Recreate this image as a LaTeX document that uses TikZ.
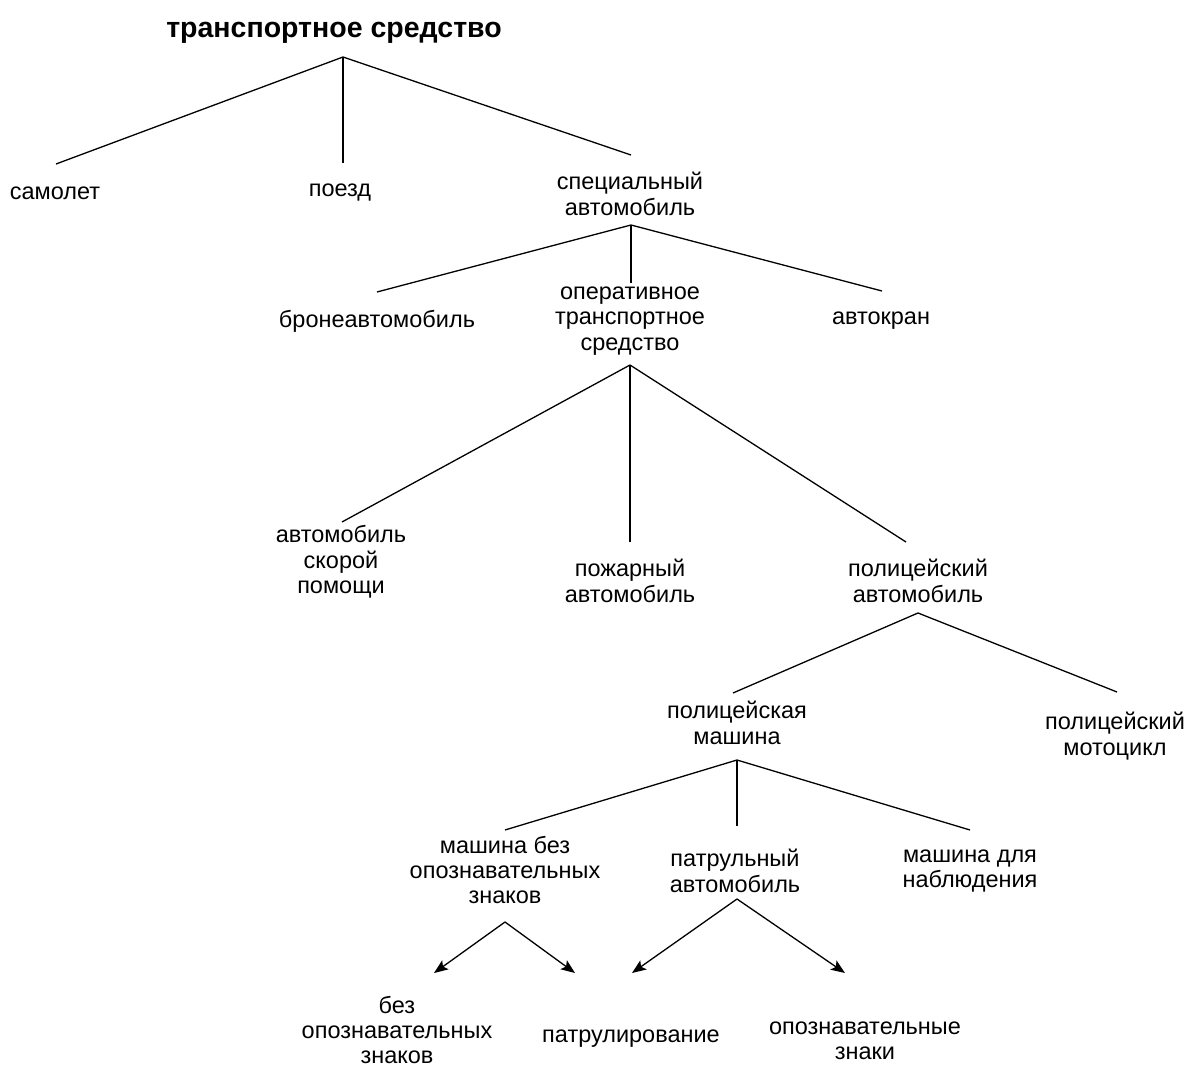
\documentclass[tikz,border=0pt]{standalone}
\usepackage{fontspec}
\setmainfont{Liberation Sans}
\usetikzlibrary{calc,arrows.meta}
\begin{document}
\begin{tikzpicture}[x=1pt,y=-1pt,
  lbl/.style={align=center,inner sep=0pt,font=\fontsize{23.5}{25.3}\selectfont},
  ttl/.style={align=center,inner sep=0pt,font=\fontsize{28.5}{32}\selectfont\bfseries},
  edge/.style={line width=1.3pt,draw=black},
  arr/.style={edge,-{Stealth[length=14pt,width=11pt,inset=3pt]}}]
\useasboundingbox (0,0) rectangle (1195,1070);
\node[ttl] (title) at (334,33) {транспортное средство};
\node[lbl] (samolet) at (55,193) {самолет};
\node[lbl] (poezd) at (340,193) {поезд};
\node[lbl] (spec) at (630,194) {специальный\\автомобиль};
\node[lbl] (bron) at (377,321) {бронеавтомобиль};
\node[lbl] (oper) at (630,321) {оперативное\\транспортное\\средство};
\node[lbl] (avtokran) at (881,321) {автокран};
\node[lbl] (skoraya) at (341,562) {автомобиль\\скорой\\помощи};
\node[lbl] (pozh) at (630,581) {пожарный\\автомобиль};
\node[lbl] (polav) at (918,581) {полицейский\\автомобиль};
\node[lbl] (polmash) at (737,723) {полицейская\\машина};
\node[lbl] (moto) at (1115,736) {полицейский\\мотоцикл};
\node[lbl] (bezzn) at (505,870) {машина без\\опознавательных\\знаков};
\node[lbl] (patr) at (735,871) {патрульный\\автомобиль};
\node[lbl] (nabl) at (970,871) {машина для\\наблюдения};
\node[lbl] (bez) at (397,1030) {без\\опознавательных\\знаков};
\node[lbl] (patrul) at (631,1039) {патрулирование};
\node[lbl] (ozn) at (865,1041) {опознавательные\\знаки};

\draw[edge] ($(title.center)+(9,24)$) -- ($(samolet.center)+(1,-29)$);
\draw[edge] ($(title.center)+(9,24)$) -- ($(poezd.center)+(3,-30)$);
\draw[edge] ($(title.center)+(9,24)$) -- ($(spec.center)+(1,-39)$);
\draw[edge] ($(spec.center)+(1,31)$) -- ($(bron.center)+(0,-29)$);
\draw[edge] ($(spec.center)+(1,31)$) -- ($(oper.center)+(1,-38)$);
\draw[edge] ($(spec.center)+(1,31)$) -- ($(avtokran.center)+(1,-30)$);
\draw[edge] ($(oper.center)+(0,44)$) -- ($(skoraya.center)+(1,-40)$);
\draw[edge] ($(oper.center)+(0,44)$) -- ($(pozh.center)+(0,-39)$);
\draw[edge] ($(oper.center)+(0,44)$) -- ($(polav.center)+(-12,-39)$);
\draw[edge] ($(polav.center)+(0,32)$) -- ($(polmash.center)+(-4,-30)$);
\draw[edge] ($(polav.center)+(0,32)$) -- ($(moto.center)+(2,-44)$);
\draw[edge] ($(polmash.center)+(0,37)$) -- ($(bezzn.center)+(0,-40)$);
\draw[edge] ($(polmash.center)+(0,37)$) -- ($(patr.center)+(2,-45)$);
\draw[edge] ($(polmash.center)+(0,37)$) -- ($(nabl.center)+(0,-41)$);
\draw[arr] ($(bezzn.center)+(0,52)$) -- ($(bez.center)+(37,-57)$);
\draw[arr] ($(bezzn.center)+(0,52)$) -- ($(patrul.center)+(-56,-66)$);
\draw[arr] ($(patr.center)+(2,28)$) -- ($(patrul.center)+(1,-66)$);
\draw[arr] ($(patr.center)+(2,28)$) -- ($(ozn.center)+(-20,-68)$);
\end{tikzpicture}
\end{document}
